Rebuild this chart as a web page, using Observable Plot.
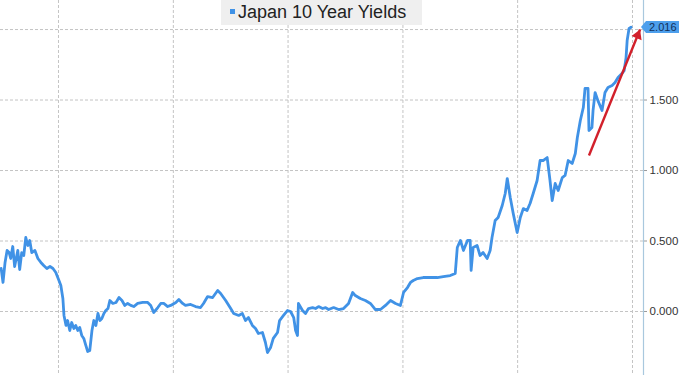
<!DOCTYPE html>
<html><head><meta charset="utf-8">
<script src="https://cdn.jsdelivr.net/npm/d3@7"></script>
<script src="https://cdn.jsdelivr.net/npm/@observablehq/plot@0.6"></script>
<style>
body{margin:0;background:#fff}
#wrap{position:relative;width:700px;height:375px;overflow:hidden;font-family:"Liberation Sans",Arial,sans-serif}
#legend{position:absolute;left:221px;top:0;width:201px;height:25px;background:#efefef;color:#222;font-size:18px;line-height:25px;white-space:nowrap}
#legend .sw{display:inline-block;width:5px;height:5px;background:#4092e6;margin:0 3px 0 9px;vertical-align:middle;position:relative;top:-2px}
#last{position:absolute;height:12px;background:#4d9fec;color:#12305a;font-size:11px;line-height:12px;padding:0 2px 0 3px}
#last:before{content:"";position:absolute;left:-5px;top:0;border-top:6px solid transparent;border-bottom:6px solid transparent;border-right:5px solid #4d9fec}
</style>
</head><body><div id="wrap"></div>
<script>
const seriesName = "Japan 10 Year Yields";
const dates = [
"2015-01-01","2015-01-13","2015-01-26","2015-02-08","2015-02-21","2015-03-03","2015-03-16","2015-03-28","2015-04-17","2015-04-29",
"2015-05-12","2015-05-25","2015-06-07","2015-06-20","2015-07-02","2015-07-15","2015-08-04","2015-08-23","2015-09-11","2015-09-29",
"2015-10-19","2015-11-08","2015-11-27","2015-12-15","2016-01-04","2016-01-16","2016-01-29","2016-02-05","2016-02-18","2016-02-28",
"2016-03-13","2016-03-25","2016-04-08","2016-04-20","2016-05-03","2016-05-15","2016-05-28","2016-06-10","2016-06-23","2016-07-05",
"2016-07-18","2016-08-01","2016-08-13","2016-08-26","2016-09-08","2016-09-21","2016-10-03","2016-10-16","2016-10-28","2016-11-11",
"2016-11-23","2016-12-12","2017-01-01","2017-01-20","2017-02-08","2017-02-26","2017-03-16","2017-04-05","2017-04-24","2017-05-19",
"2017-06-20","2017-07-22","2017-08-10","2017-08-29","2017-09-24","2017-10-13","2017-11-01","2017-11-26","2017-12-15","2018-01-17",
"2018-02-05","2018-03-01","2018-03-19","2018-04-21","2018-05-22","2018-06-23","2018-07-12","2018-08-07","2018-09-08","2018-10-10",
"2018-10-29","2018-11-30","2019-01-01","2019-01-20","2019-02-21","2019-03-16","2019-04-05","2019-04-24","2019-05-19","2019-06-08",
"2019-06-26","2019-07-22","2019-08-10","2019-08-23","2019-09-12","2019-09-29","2019-10-26","2019-11-08","2019-12-03","2019-12-28",
"2020-01-17","2020-02-06","2020-02-18","2020-03-01","2020-03-07","2020-04-02","2020-04-21","2020-05-10","2020-06-05","2020-06-24",
"2020-07-13","2020-08-08","2020-08-27","2020-09-15","2020-10-17","2020-11-18","2020-12-19","2021-01-20","2021-02-15","2021-03-04",
"2021-04-05","2021-05-07","2021-06-08","2021-07-10","2021-08-11","2021-09-12","2021-10-14","2021-11-15","2021-12-16","2022-01-05",
"2022-01-30","2022-02-18","2022-03-08","2022-04-03","2022-05-10","2022-06-24","2022-08-08","2022-09-15","2022-10-29","2022-11-30",
"2022-12-13","2023-01-02","2023-01-21","2023-02-16","2023-03-05","2023-03-11","2023-03-24","2023-04-18","2023-05-07","2023-05-26",
"2023-06-21","2023-07-10","2023-07-22","2023-08-11","2023-08-30","2023-09-25","2023-10-14","2023-10-27","2023-11-15","2023-12-04",
"2023-12-29","2024-01-18","2024-02-06","2024-03-01","2024-03-20","2024-04-09","2024-05-04","2024-05-23","2024-06-11","2024-07-07",
"2024-07-25","2024-08-08","2024-08-27","2024-09-15","2024-10-11","2024-10-29","2024-11-18","2024-12-13","2025-01-02","2025-01-15",
"2025-02-03","2025-02-22","2025-03-05","2025-03-24","2025-03-30","2025-04-18","2025-04-25","2025-05-08","2025-05-26","2025-06-21",
"2025-07-10","2025-07-29","2025-08-24","2025-09-12","2025-10-01","2025-10-26","2025-11-09","2025-11-21","2025-11-28","2025-12-10",
"2025-12-23"
];
const yields = [
0.305,0.206,0.348,0.433,0.418,0.376,0.461,0.319,0.433,0.298,
0.418,0.397,0.525,0.468,0.504,0.418,0.433,0.376,0.348,0.326,
0.305,0.319,0.305,0.277,0.220,0.184,0.092,-0.028,-0.099,-0.064,
-0.135,-0.078,-0.121,-0.099,-0.135,-0.113,-0.170,-0.191,-0.241,-0.284,
-0.277,-0.135,-0.064,-0.099,-0.014,-0.064,-0.050,-0.014,0.007,0.021,
0.078,0.057,0.064,0.099,0.078,0.043,0.057,0.043,0.035,0.057,
0.064,0.064,0.043,-0.007,0.028,0.057,0.057,0.035,0.043,0.064,
0.085,0.057,0.043,0.050,0.035,0.028,0.057,0.106,0.099,0.149,
0.128,0.078,0.021,-0.014,-0.028,-0.014,-0.064,-0.043,-0.099,-0.121,
-0.156,-0.149,-0.220,-0.291,-0.255,-0.191,-0.149,-0.064,-0.028,0.007,
0.000,-0.043,-0.135,-0.170,0.057,0.007,-0.014,0.021,0.028,0.021,
0.035,0.021,0.028,0.014,0.028,0.014,0.021,0.057,0.135,0.113,
0.092,0.078,0.057,0.014,0.014,0.043,0.078,0.057,0.043,0.135,
0.170,0.206,0.220,0.234,0.241,0.241,0.241,0.248,0.255,0.270,
0.454,0.504,0.433,0.504,0.504,0.291,0.454,0.468,0.397,0.418,
0.376,0.433,0.525,0.645,0.667,0.752,0.837,0.943,0.809,0.695,
0.560,0.667,0.730,0.716,0.766,0.837,0.929,1.071,1.071,1.092,
0.929,0.787,0.908,0.858,0.950,0.965,1.071,1.050,1.121,1.234,
1.355,1.447,1.582,1.582,1.284,1.305,1.426,1.553,1.496,1.426,
1.553,1.589,1.603,1.624,1.660,1.688,1.709,1.801,1.922,2.007,
2.016
];
const gridTicks = [-0.5, 0, 0.5, 1, 1.5, 2];
const labelTicks = [-0.5, 0, 0.5, 1, 1.5];
const xGridDates = ["2016-01-01","2018-01-01","2020-01-01","2022-01-01","2024-01-01","2026-01-01"];
const arrowFrom = {date: "2025-03-30", value: 1.106};
const arrowTo = {date: "2026-02-18", value: 2.0};

const data = dates.map((d, i) => ({date: new Date(d), value: yields[i]}));
const last = data[data.length - 1];
const arrowData = [{x1: new Date(arrowFrom.date), y1: arrowFrom.value, x2: new Date(arrowTo.date), y2: arrowTo.value}];

const chart = Plot.plot({
  width: 700, height: 375,
  marginLeft: 0, marginRight: 57, marginTop: 0, marginBottom: 0,
  style: {fontFamily: '"Liberation Sans", Arial, sans-serif', background: "#fff"},
  x: {type: "utc", domain: [new Date("2014-12-28"), new Date("2026-03-12")], axis: null},
  y: {domain: [-0.454, 2.206]},
  marks: [
    Plot.ruleY(gridTicks, {y: d => d, stroke: "#c4c4c4", strokeDasharray: "3,2"}),
    Plot.ruleX(xGridDates.map(d => new Date(d)), {x: d => d, stroke: "#c4c4c4", strokeDasharray: "3,2"}),
    Plot.axisY({anchor: "right", ticks: labelTicks, tickFormat: d3.format(".3f"), tickSize: 3, tickPadding: 3, fontSize: 11.5, color: "#333", stroke: "#999", label: null}),
    Plot.frame({anchor: "right", stroke: "#a9c8de", strokeWidth: 1.2}),
    Plot.lineY(data, {x: "date", y: "value", stroke: "#4092e6", strokeWidth: 2.8, strokeLinejoin: "round"}),
    Plot.link(arrowData, {x1: "x1", y1: "y1", x2: "x2", y2: "y2", stroke: "#d2202b", strokeWidth: 2.4}),
    Plot.dot(arrowData, {x: "x2", y: "y2", symbol: "triangle", r: 4, fill: "#d2202b", stroke: "none", rotate: 22, dx: -2.3, dy: 5.7})
  ]
});

const wrap = document.getElementById("wrap");
wrap.appendChild(chart);

const legend = document.createElement("div");
legend.id = "legend";
legend.innerHTML = '<span class="sw"></span>' + seriesName;
wrap.appendChild(legend);

const lbl = document.createElement("div");
lbl.id = "last";
lbl.textContent = d3.format(".3f")(last.value);
const py = chart.scale("y").apply(last.value);
lbl.style.left = "646px";
lbl.style.top = (py - 6) + "px";
wrap.appendChild(lbl);
</script></body></html>
